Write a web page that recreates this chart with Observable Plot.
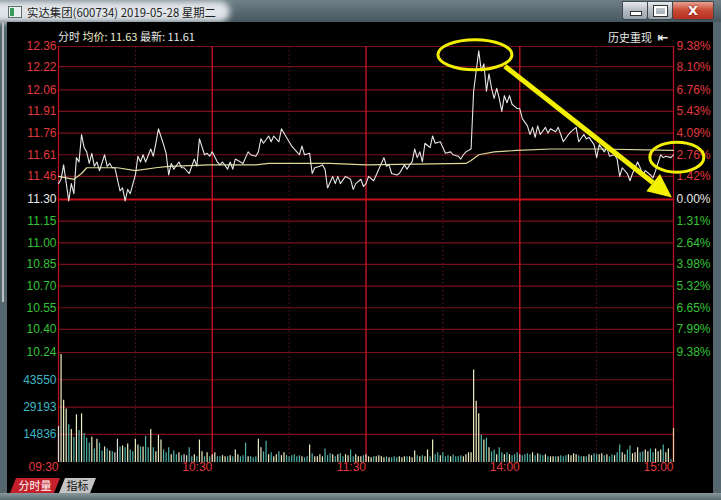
<!DOCTYPE html>
<html><head><meta charset="utf-8">
<script src="https://cdn.jsdelivr.net/npm/d3@7"></script>
<script src="https://cdn.jsdelivr.net/npm/@observablehq/plot@0.6"></script>
<style>
html,body{margin:0;padding:0;background:#4a5a62;}
#win{position:relative;width:721px;height:500px;overflow:hidden;background:#56666e;font-family:"Liberation Sans",Arial,sans-serif;}
.abs{position:absolute;}
#title{left:0;top:0;width:721px;height:22px;background:linear-gradient(#708088,#46565e);}
#glow{left:-10px;top:1px;width:240px;height:21px;background:rgba(232,236,240,0.95);border-radius:0 12px 12px 0;filter:blur(3px);}
#ttext{left:27px;top:4px;font:11.4px "Noto Sans CJK SC",sans-serif;color:#1c1c1c;white-space:nowrap;}
#icon{left:8px;top:6px;width:12px;height:10px;background:#e8f0f0;border:1px solid #607070;}
#icon:before{content:"";position:absolute;left:1px;top:1px;width:4px;height:8px;background:#3a9a5a;}
.btn{top:1px;height:17px;border:1px solid #40484e;border-radius:0 0 3px 3px;}
#bmin{left:622px;width:24px;background:linear-gradient(#e6eaee,#b4bcc4 50%,#98a2aa);}
#bmax{left:647px;width:24px;background:linear-gradient(#e6eaee,#b4bcc4 50%,#98a2aa);}
#bclose{left:672px;width:40px;background:linear-gradient(#e8a090,#c84a34 50%,#b83020);}
#content{left:7px;top:22px;width:706px;height:471px;background:#000;}
#lstrip{left:2px;top:22px;width:2px;height:280px;background:#b8c0c4;}
#bstrip{left:0;top:493px;width:721px;height:7px;background:linear-gradient(#8a989e,#5a6a70);}
#header{left:58px;top:28px;font:11px "Noto Sans CJK SC",sans-serif;color:#e8e8e8;white-space:nowrap;}
#hist{left:608px;top:29px;font:11px "Noto Sans CJK SC",sans-serif;color:#e8e8e8;white-space:nowrap;}
#tab1{left:10px;top:478px;width:50px;height:15px;background:#c4202c;clip-path:polygon(0 100%,6px 0,100% 0,calc(100% - 6px) 100%);color:#fff;font:11px "Noto Sans CJK SC",sans-serif;line-height:15px;text-align:center;}
#tab2{left:59px;top:478px;width:37px;height:15px;background:#c4c4c4;clip-path:polygon(0 100%,6px 0,100% 0,calc(100% - 6px) 100%);color:#111;font:11px "Noto Sans CJK SC",sans-serif;line-height:15px;text-align:center;}
</style></head>
<body>
<div id="win">
  <div id="title" class="abs"></div>
  <div id="glow" class="abs"></div>
  <div id="icon" class="abs"></div>
  <div id="ttext" class="abs">实达集团(600734) 2019-05-28 星期二</div>
  <div id="bmin" class="abs btn"><div style="position:absolute;left:7px;top:9px;width:10px;height:3px;background:#fff;border:1px solid #333"></div></div>
  <div id="bmax" class="abs btn"><div style="position:absolute;left:6px;top:4px;width:9px;height:6px;border:2px solid #fff;outline:1px solid #333"></div></div>
  <div id="bclose" class="abs btn"><div style="position:absolute;left:0;top:0;width:40px;text-align:center;color:#fff;font:bold 13px 'DejaVu Sans',sans-serif;line-height:17px;text-shadow:0 0 2px #600">X</div></div>
  <div id="content" class="abs"></div>
  <div id="lstrip" class="abs"></div>
  <div id="bstrip" class="abs"></div>
  <div id="header" class="abs"><span>分时</span> <span style="color:#ecebc8">均价: 11.63</span> <span>最新: 11.61</span></div>
  <div id="hist" class="abs">历史重现 <span style="font:bold 13px 'DejaVu Sans';margin-left:3px">⇤</span></div>
  <div id="tab1" class="abs">分时量</div>
  <div id="tab2" class="abs">指标</div>
</div>
<script>
// ---------- data ----------
const prevClose = 11.30;
const priceTicks = [12.36,12.22,12.06,11.91,11.76,11.61,11.46,11.30,11.15,11.00,10.85,10.70,10.55,10.40,10.24];
const pctLabels = ["9.38%","8.10%","6.76%","5.43%","4.09%","2.76%","1.42%","0.00%","1.31%","2.64%","3.98%","5.32%","6.65%","7.99%","9.38%"];
const volTicks = [43550,29193,14836];
const timeTicks = [0,60,120,180,240];
const timeLabels = ["09:30","10:30","11:30","14:00","15:00"];
const majorMinutes = [60,120,180];
const minorMinutes = [30,90,150,210];

const priceMin = [0,1,2,4,5,6,7,8,9,10,11,12,13,14,15,16,18,19,20,21,22,24,25,26,27,28,30,31,32,33,34,36,37,38,39,41,42,43,44,45,47,48,49,51,53,54,55,57,58,59,60,62,63,64,66,67,68,69,71,72,74,75,77,78,79,80,82,83,84,86,87,89,91,93,94,95,96,98,99,100,102,103,104,105,107,108,109,110,112,114,115,116,118,119,120,121,123,124,127,128,129,130,132,133,135,136,137,138,139,140,141,142,143,145,146,147,149,150,151,153,154,156,157,158,159,161,162,163,164,165,166,167,168,169,170,171,172,173,174,175,176,177,179,180,181,183,184,185,186,187,188,190,191,192,194,195,196,197,199,200,202,203,205,206,207,209,210,211,213,214,215,217,218,219,220,222,223,224,226,227,228,229,231,232,233,235,236,237,239,240];
const priceVal = [11.41,11.44,11.54,11.29,11.41,11.34,11.59,11.56,11.75,11.66,11.63,11.55,11.62,11.53,11.56,11.50,11.61,11.53,11.55,11.52,11.52,11.36,11.38,11.29,11.37,11.34,11.47,11.60,11.56,11.61,11.56,11.65,11.60,11.69,11.79,11.68,11.62,11.47,11.55,11.51,11.56,11.52,11.52,11.48,11.58,11.53,11.72,11.61,11.62,11.60,11.63,11.56,11.54,11.56,11.51,11.56,11.51,11.58,11.56,11.55,11.63,11.61,11.60,11.63,11.72,11.69,11.74,11.70,11.74,11.70,11.79,11.73,11.67,11.63,11.61,11.67,11.61,11.62,11.48,11.52,11.53,11.54,11.51,11.38,11.46,11.41,11.46,11.41,11.46,11.44,11.37,11.41,11.44,11.39,11.41,11.46,11.43,11.47,11.59,11.53,11.54,11.48,11.47,11.48,11.54,11.51,11.54,11.56,11.65,11.59,11.63,11.56,11.69,11.66,11.74,11.69,11.70,11.66,11.62,11.63,11.61,11.60,11.58,11.61,11.63,11.65,12.05,12.19,12.33,12.19,12.24,12.05,12.17,12.07,12.00,12.07,12.00,11.91,12.02,11.97,12.02,11.96,11.93,11.93,11.86,11.81,11.75,11.80,11.73,11.81,11.75,11.80,11.76,11.79,11.77,11.80,11.75,11.70,11.75,11.77,11.80,11.70,11.75,11.72,11.73,11.68,11.59,11.68,11.63,11.66,11.60,11.61,11.58,11.46,11.52,11.48,11.43,11.48,11.56,11.52,11.47,11.50,11.47,11.45,11.50,11.61,11.59,11.60,11.59,11.61];

const avgMin = [0,3,6,9,11,16,23,30,38,43,59,77,82,93,106,120,159,161,164,170,179,192,211,240];
const avgVal = [11.46,11.45,11.44,11.48,11.52,11.52,11.52,11.50,11.52,11.53,11.54,11.54,11.55,11.55,11.55,11.54,11.55,11.57,11.61,11.63,11.64,11.65,11.65,11.64];

const volume = [
18900,56900,32800,28200,19900,17400,13300,25100,16900,25600,
15300,12800,10200,13300,7100,12300,10200,6100,8200,7100,
6100,5600,5100,12300,8200,8700,7700,9700,6600,5600,
12300,9200,8200,8200,13800,7700,17400,7700,5600,14300,
11800,6600,5100,7700,4100,6100,4100,5100,3600,4100,
3600,7700,3000,4100,3000,11800,5600,3000,5100,3000,
4100,5100,3000,3000,3600,3000,3000,3600,3000,6600,
4100,
3000,3600,10200,3000,3000,2500,3000,12300,7700,5600,
11200,4100,5100,3000,4100,5600,3600,5100,3600,3000,
3600,4100,3000,3600,3000,2500,3000,9200,4600,3000,
3000,4100,3000,7100,3600,4600,4100,3000,4100,4600,
3000,4100,3600,6600,3000,4100,3000,3000,3600,4100,
3000,2500,3000,3000,3600,3000,2500,3000,2500,2500,
3000,2500,3000,2500,3000,3000,3000,2500,6100,3600,
3000,3600,3000,6600,3000,11800,4100,5100,3600,5100,
3000,3600,3000,4100,3000,3000,3600,3000,4100,5100,
5100,
48700,32300,25600,
14300,11800,12800,7700,5600,6600,4100,7700,5100,4100,
5100,4100,3600,4100,5100,4100,3600,4100,4600,4100,
5100,3600,4600,4100,3600,4100,3000,3000,3000,3000,
3000,3600,3000,3600,4100,3600,4600,4100,3600,3000,
3000,3000,4100,3600,4600,4100,4100,4600,3600,4100,
3000,4100,3600,5100,
9200,5100,4100,6600,8700,4600,5100,7700,5100,5600,6600,5600,7100,5100,7100,5600,6600,9200,5100,7100,1500,17900];

// annotation anchors (minute, price)
const peakMark = {m: 162.7, p: 12.30};
const endMark = {m: 241.5, p: 11.59};
const arrowFrom = {m: 174.4, p: 12.22};
const arrowTo = {m: 239.6, p: 11.31};

// ---------- derived tables ----------
const priceData = priceMin.map((m, i) => ({m, p: priceVal[i]}));
const avgData = avgMin.map((m, i) => ({m, p: avgVal[i]}));
function priceAt(m) { let j = -1; for (let i = 0; i < priceMin.length; i++) if (priceMin[i] <= m) j = i; return j; }
const volData = volume.map((v, m) => {
  const j = priceAt(m);
  const cur = priceVal[Math.max(j, 0)], prev = j > 0 ? priceVal[j - 1] : cur;
  const c = m === 240 ? "#f2c896" : cur > prev ? "#eeeec2" : cur < prev ? "#4fb3aa" : "#dcdcdc";
  return {m, v, c};
});
const tickRows = priceTicks.map((v, i) => ({v, pct: pctLabels[i], col: v > prevClose ? "#e0383e" : v < prevClose ? "#35c235" : "#e8e8e8"}));

const RED = "#e0383e", GRID = "#78101c", MAJOR = "#b8101e", MINOR = "#4a1018";
const font = {fontFamily: '"Liberation Sans", Arial, sans-serif', fontSize: "12px", background: "none", overflow: "visible", position: "absolute", left: "0px"};
const win = document.getElementById("win");

// ---------- price panel ----------
const pricePlot = Plot.plot({
  width: 721, height: 360,
  marginLeft: 58, marginRight: 48, marginTop: 46, marginBottom: 8,
  style: font,
  x: {domain: [0, 240], axis: null},
  y: {domain: [10.24, 12.36], axis: null},
  color: {type: "identity"},
  marks: [
    Plot.ruleX(minorMinutes, {stroke: MINOR, strokeDasharray: "2,2"}),
    Plot.ruleY(priceTicks.filter(v => v !== prevClose), {stroke: GRID, strokeWidth: 1.2}),
    Plot.ruleX(majorMinutes, {stroke: MAJOR, strokeWidth: 1.5}),
    Plot.ruleX([0, 240], {stroke: MAJOR, strokeWidth: 1.3}),
    Plot.ruleY([prevClose], {stroke: "#c8101e", strokeWidth: 2}),
    Plot.line(avgData, {x: "m", y: "p", stroke: "#dcd896", strokeWidth: 1.2}),
    Plot.line(priceData, {x: "m", y: "p", stroke: "#e6e6e6", strokeWidth: 1.1}),
    Plot.text(tickRows, {y: "v", text: d => d.v.toFixed(2), frameAnchor: "left", textAnchor: "end", dx: -2, fill: "col"}),
    Plot.text(tickRows, {y: "v", text: "pct", frameAnchor: "right", textAnchor: "start", dx: 3, fill: "col"})
  ]
});
pricePlot.style.position = "absolute";
pricePlot.style.left = "0px";
pricePlot.style.top = "0px";
win.appendChild(pricePlot);

// annotations drawn with the plot's own scales
try {
  const sx = pricePlot.scale("x"), sy = pricePlot.scale("y");
  const g = d3.select(pricePlot).append("g").attr("fill", "none");
  const Y = "#f2f000";
  g.append("ellipse").attr("cx", sx.apply(peakMark.m)).attr("cy", sy.apply(peakMark.p)).attr("rx", 37).attr("ry", 15).attr("stroke", Y).attr("stroke-width", 3);
  g.append("ellipse").attr("cx", sx.apply(endMark.m)).attr("cy", sy.apply(endMark.p)).attr("rx", 27).attr("ry", 15).attr("stroke", Y).attr("stroke-width", 3);
  const x1 = sx.apply(arrowFrom.m), y1 = sy.apply(arrowFrom.p), x2 = sx.apply(arrowTo.m), y2 = sy.apply(arrowTo.p);
  const ang = Math.atan2(y2 - y1, x2 - x1), L = 24, W = 11;
  const bx = x2 - L * Math.cos(ang), by = y2 - L * Math.sin(ang);
  g.append("line").attr("x1", x1).attr("y1", y1).attr("x2", bx).attr("y2", by).attr("stroke", Y).attr("stroke-width", 5);
  g.append("path").attr("d", `M${x2},${y2}L${bx + W * Math.sin(ang)},${by - W * Math.cos(ang)}L${bx - W * Math.sin(ang)},${by + W * Math.cos(ang)}Z`).attr("fill", Y);
} catch (e) { console.error(e); }

// ---------- volume panel ----------
const volPlot = Plot.plot({
  width: 721, height: 160,
  marginLeft: 58, marginRight: 48, marginTop: 12, marginBottom: 38,
  style: font,
  x: {domain: [0, 240], axis: null},
  y: {domain: [0, 57907], axis: null},
  color: {type: "identity"},
  marks: [
    Plot.ruleX(minorMinutes, {stroke: MINOR, strokeDasharray: "2,2"}),
    Plot.ruleY(volTicks, {stroke: GRID, strokeWidth: 1.2}),
    Plot.ruleX(majorMinutes, {stroke: MAJOR, strokeWidth: 1.5}),
    Plot.ruleX([0, 240], {stroke: MAJOR, strokeWidth: 1.3}),
    Plot.ruleX(volData, {x: "m", y1: 0, y2: "v", stroke: "c", strokeWidth: 1.2}),
    Plot.text(volTicks, {y: d => d, text: d => String(d), frameAnchor: "left", textAnchor: "end", dx: -2, fill: "#3db6c4"}),
    Plot.text(timeTicks, {x: d => d, text: (d, i) => timeLabels[i], frameAnchor: "bottom", textAnchor: "end", dy: 8, fill: RED})
  ]
});
volPlot.style.position = "absolute";
volPlot.style.left = "0px";
volPlot.style.top = "340px";
win.appendChild(volPlot);
</script>
</body></html>
